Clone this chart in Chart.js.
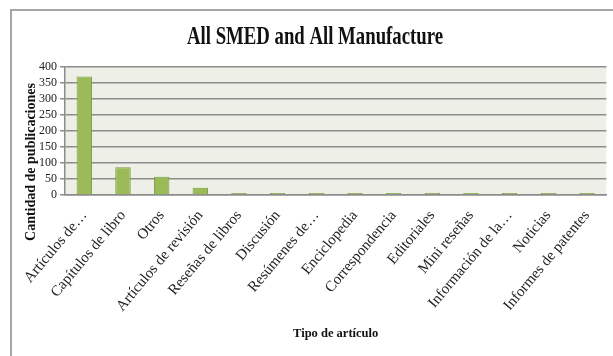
<!DOCTYPE html>
<html>
<head>
<meta charset="utf-8">
<script src="https://cdn.jsdelivr.net/npm/chart.js@4.4.1/dist/chart.umd.min.js"></script>
<style>
  html, body { margin: 0; padding: 0; background: #fff; }
  #wrap { position: relative; width: 613px; height: 356px; overflow: hidden; }
  #frame { position: absolute; left: 10px; top: 9px; width: 700px; height: 400px;
           border: 2px solid #a6a6a6; pointer-events: none; box-sizing: border-box; }
  canvas { position: absolute; left: 0; top: 0; }
</style>
</head>
<body>
<div id="wrap">
  <canvas id="c" width="613" height="356"></canvas>
  <div id="frame"></div>
</div>
<script>
const categories = [
  "Artículos de…", "Capítulos de libro", "Otros", "Artículos de revisión",
  "Reseñas de libros", "Discusión", "Resúmenes de…", "Enciclopedia",
  "Correspondencia", "Editoriales", "Mini reseñas", "Información de la…",
  "Noticias", "Informes de patentes"
];
const publicaciones = [370, 87, 57, 23, 6, 6, 3, 3, 3, 3, 3, 3, 3, 3];
const yTicks = [0, 50, 100, 150, 200, 250, 300, 350, 400];
const chartTitle = "All SMED and All Manufacture";
const xTitle = "Tipo de artículo";
const yTitle = "Cantidad de publicaciones";

const SERIF = "'Liberation Serif', 'Times New Roman', serif";

const plotBg = {
  id: 'plotBg',
  beforeDraw(chart) {
    const {ctx, chartArea: a} = chart;
    ctx.save();
    ctx.fillStyle = '#eef0e7';
    ctx.fillRect(a.left, a.top, a.right - a.left, a.bottom - a.top);
    ctx.restore();
  }
};

const textPlugin = {
  id: 'textPlugin',
  afterDraw(chart) {
    const ctx = chart.ctx;
    // chart title, condensed like the reference
    ctx.save();
    ctx.font = "bold 26px " + SERIF;
    ctx.fillStyle = '#111';
    ctx.textAlign = 'center';
    ctx.textBaseline = 'middle';
    const w = ctx.measureText(chartTitle).width;
    const sx = 256 / w;
    ctx.translate(315, 37);
    ctx.scale(sx, 1);
    ctx.fillText(chartTitle, 0, 0);
    ctx.restore();
    // y axis title
    ctx.save();
    ctx.translate(31, 162);
    ctx.rotate(-Math.PI / 2);
    ctx.font = "bold 14px " + SERIF;
    ctx.fillStyle = '#111';
    ctx.textAlign = 'center';
    ctx.textBaseline = 'middle';
    ctx.fillText(yTitle, 0, 0);
    ctx.restore();
  }
};

new Chart(document.getElementById('c'), {
  type: 'bar',
  data: {
    labels: categories,
    datasets: [{
      data: publicaciones,
      backgroundColor: '#9bbb59',
      borderColor: '#7c9a42',
      borderWidth: 1,
      minBarLength: 2,
      categoryPercentage: 1.0,
      barPercentage: 0.4
    }]
  },
  options: {
    responsive: false,
    animation: false,
    layout: { padding: { left: 0, right: 6, top: 67, bottom: 0 } },
    plugins: {
      legend: { display: false },
      tooltip: { enabled: false },
      title: { display: false }
    },
    scales: {
      x: {
        grid: { display: false, drawTicks: false },
        border: { display: true, color: '#8c8c8c', width: 1.5 },
        ticks: {
          autoSkip: false,
          minRotation: 50,
          maxRotation: 50,
          padding: 12,
          color: '#222',
          font: { family: SERIF, size: 15 }
        },
        title: {
          display: true,
          text: xTitle,
          color: '#111',
          font: { family: SERIF, size: 12.5, weight: 'bold', lineHeight: 1.2 },
          padding: { top: 0, bottom: 15 }
        },
        afterFit(scale) { scale.height = 161; }
      },
      y: {
        min: 0,
        max: 400,
        afterBuildTicks(scale) { scale.ticks = yTicks.map(v => ({ value: v })); },
        grid: { color: '#8c8c8c', lineWidth: 1.5, tickLength: 5, drawTicks: true },
        border: { display: true, color: '#8c8c8c', width: 1.5 },
        ticks: {
          autoSkip: false,
          padding: 3,
          color: '#222',
          font: { family: SERIF, size: 12 }
        },
        afterFit(scale) { scale.width = 65; }
      }
    }
  },
  plugins: [plotBg, textPlugin]
});
</script>
</body>
</html>
